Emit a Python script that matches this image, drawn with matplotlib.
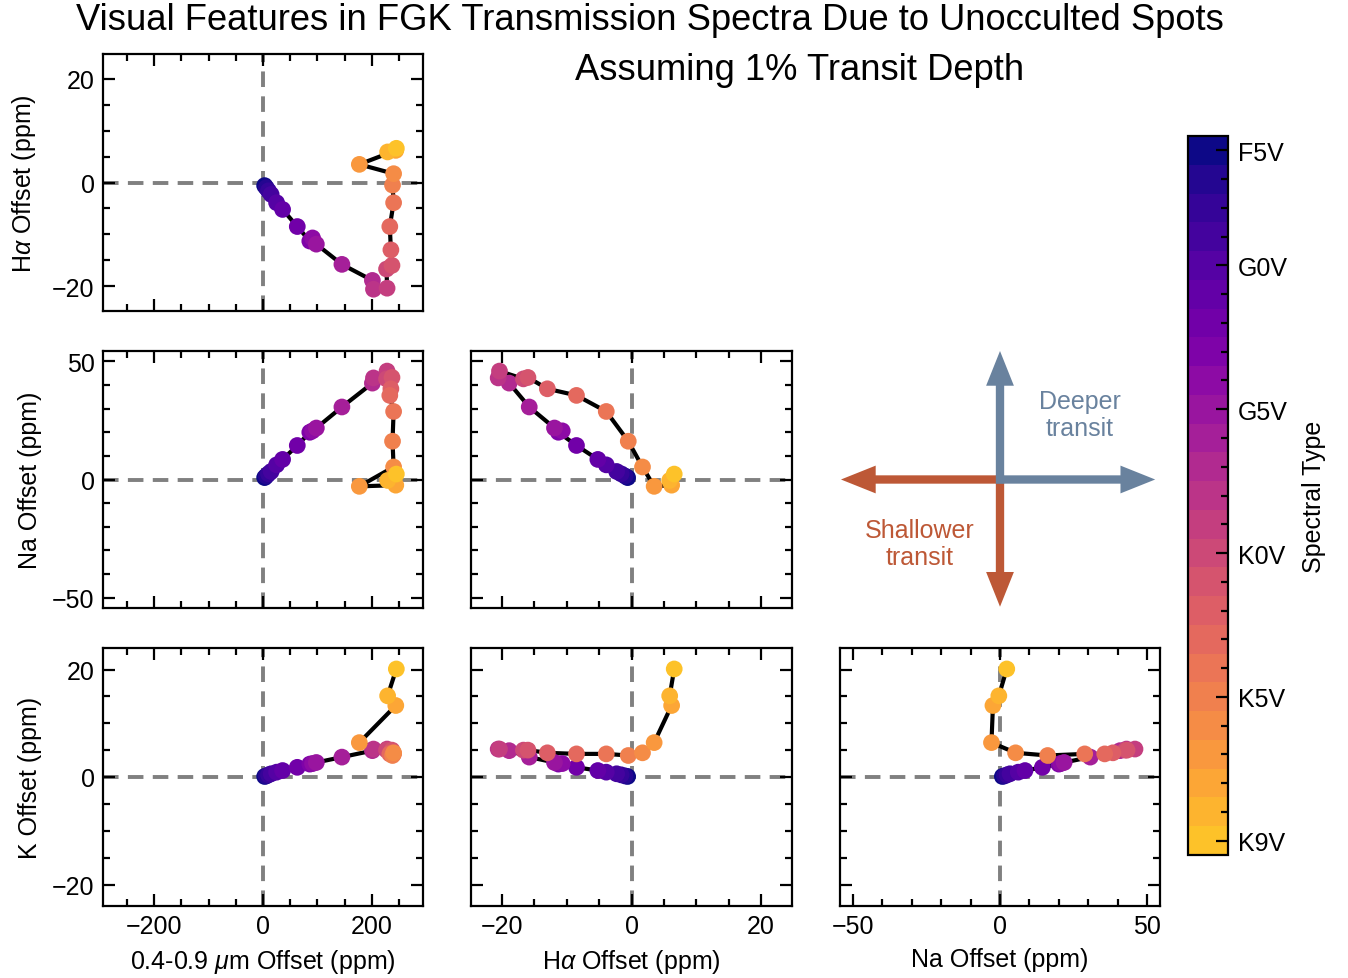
import numpy as np
import matplotlib
matplotlib.use('Agg')
import matplotlib.pyplot as plt
from matplotlib.colors import ListedColormap, BoundaryNorm
from matplotlib.cm import ScalarMappable
from matplotlib.ticker import MultipleLocator, FixedLocator
from matplotlib.patches import FancyArrowPatch

plt.rcParams['font.family'] = ['Liberation Sans', 'DejaVu Sans']
plt.rcParams['mathtext.fontset'] = 'custom'
plt.rcParams['mathtext.rm'] = 'Liberation Sans'
plt.rcParams['mathtext.it'] = 'Liberation Sans:italic'
plt.rcParams['font.size'] = 18

# ---------------- data ----------------
# star models ordered from F5V (hottest) to K9V (coolest)
star_index = list(range(25))
broadband_offset = [3, 6, 10, 15, 25, 36, 63, 86, 91, 98, 145, 201, 203, 228, 227,
                    237, 235, 233, 240, 238, 240, 177, 244, 229, 245]
halpha_offset = [-0.6, -1.0, -1.6, -2.3, -3.9, -5.2, -8.5, -11.3, -10.7, -11.9, -15.8,
                 -18.9, -20.6, -20.4, -16.7, -16.0, -13.0, -8.5, -3.9, -0.5, 1.7,
                 3.5, 6.2, 5.9, 6.6]
na_offset = [0.8, 1.5, 2.4, 3.4, 6.2, 8.5, 14.4, 20.0, 20.6, 21.8, 30.7, 40.8, 43.0,
             45.9, 42.6, 43.2, 38.4, 35.6, 28.8, 16.2, 5.3, -2.9, -2.4, -0.4, 2.3]
k_offset = [0.1, 0.2, 0.4, 0.6, 0.9, 1.2, 1.8, 2.4, 2.5, 2.7, 3.7, 4.9, 5.2, 5.2, 5.0,
            5.0, 4.5, 4.3, 4.3, 4.0, 4.5, 6.4, 13.3, 15.1, 20.1]
colorbar_tick_labels = ['F5V', 'G0V', 'G5V', 'K0V', 'K5V', 'K9V']
colorbar_tick_index = [0, 4, 9, 14, 19, 24]

axis_labels = [r'0.4-0.9 $\mu$m Offset (ppm)', r'H$\alpha$ Offset (ppm)',
               'Na Offset (ppm)', 'K Offset (ppm)']
title_text = 'Visual Features in FGK Transmission Spectra Due to Unocculted Spots'
subtitle_text = 'Assuming 1% Transit Depth'

# ---------------- layout / style ----------------
values = [broadband_offset, halpha_offset, na_offset, k_offset]
limits = [294, 24.8, 54.4, 24.0]
major_step = [200, 20, 50, 20]
minor_step = [50, 5, 10, 5]

W, H = 1348, 979
fig = plt.figure(figsize=(W / 100, H / 100), dpi=100)


def add_ax(x0, x1, y0, y1):
    return fig.add_axes([x0 / W, 1 - y1 / H, (x1 - x0) / W, (y1 - y0) / H])


cols = [(103, 423), (471, 792), (840, 1160)]
rows = [(55, 312), (352, 609), (649, 907)]
ylabel_pads = [10, 7, 7]

n = len(star_index)
colors = plt.cm.plasma(np.linspace(0.0, 0.87, n))
cmap = ListedColormap(colors)
idx = np.array(star_index)
dash = (0, (4.0, 2.4))

for r in range(3):
    for c in range(r + 1):
        ax = add_ax(cols[c][0], cols[c][1], rows[r][0], rows[r][1])
        xi, yi = c, r + 1
        x = values[xi]
        y = values[yi]
        ax.axhline(0, color='gray', lw=2.8, ls=dash, zorder=1)
        ax.axvline(0, color='gray', lw=2.8, ls=dash, zorder=1)
        ax.plot(x, y, color='black', lw=3, zorder=2)
        ax.scatter(x, y, c=idx, cmap=cmap, vmin=-0.5, vmax=n - 0.5, s=145,
                   edgecolors='none', zorder=3)
        ax.set_xlim(-limits[xi], limits[xi])
        ax.set_ylim(-limits[yi], limits[yi])
        ax.xaxis.set_major_locator(MultipleLocator(major_step[xi]))
        ax.xaxis.set_minor_locator(MultipleLocator(minor_step[xi]))
        ax.yaxis.set_major_locator(MultipleLocator(major_step[yi]))
        ax.yaxis.set_minor_locator(MultipleLocator(minor_step[yi]))
        ax.tick_params(which='both', direction='in', top=True, right=True,
                       width=1.6, labelsize=18, pad=6)
        ax.tick_params(which='major', length=8.5)
        ax.tick_params(which='minor', length=5)
        for s in ax.spines.values():
            s.set_linewidth(1.6)
        if r == 2:
            ax.set_xlabel(axis_labels[xi], fontsize=18, labelpad=6)
        else:
            ax.tick_params(labelbottom=False)
        if c == 0:
            ax.set_ylabel(axis_labels[yi], fontsize=18, labelpad=ylabel_pads[r])
        else:
            ax.tick_params(labelleft=False)

# arrows panel
aax = add_ax(cols[2][0], cols[2][1], rows[1][0], rows[1][1])
aax.set_xlim(-1, 1)
aax.set_ylim(-1, 1)
aax.axis('off')
blue = '#69829e'
orange = '#bd5836'
style = 'simple,tail_width=0.6,head_width=2.0,head_length=2.5'
hw = 4.0 / 160.0
hh = 4.0 / 128.5
arrows = [((0, 0), (-0.994, 0), orange), ((0, hh), (0, -0.99), orange),
          ((-hw, 0), (0.97, 0), blue), ((0, -hh), (0, 1.0), blue)]
for start, end, col in arrows:
    p = FancyArrowPatch(start, end, arrowstyle=style, mutation_scale=10,
                        color=col, shrinkA=0, shrinkB=0, lw=0,
                        transform=aax.transData, clip_on=False)
    aax.add_patch(p)
aax.text(0.75, 0.752, 'Deeper\ntransit', color=blue, fontsize=18, ha='center',
         va='center', linespacing=1.15, transform=aax.transAxes)
aax.text(0.25, 0.25, 'Shallower\ntransit', color=orange, fontsize=18, ha='center',
         va='center', linespacing=1.15, transform=aax.transAxes)

# colorbar
cax = add_ax(1188, 1228, 137, 856)
norm = BoundaryNorm(np.arange(-0.5, n + 0.5, 1), n)
sm = ScalarMappable(norm=norm, cmap=cmap)
cb = fig.colorbar(sm, cax=cax)
cax.invert_yaxis()
cb.set_ticks(colorbar_tick_index)
cb.set_ticklabels(colorbar_tick_labels)
cax.yaxis.set_minor_locator(FixedLocator([i for i in star_index
                                          if i not in colorbar_tick_index]))
cax.tick_params(which='both', direction='in', right=True, left=False,
                width=1.6, labelsize=18, pad=7)
cax.tick_params(which='major', length=8.5)
cax.tick_params(which='minor', length=5)
cb.outline.set_linewidth(1.6)
cb.set_label('Spectral Type', fontsize=18, labelpad=10)

fig.text(650 / W, 1 - 21 / H, title_text, fontsize=26.2, ha='center', va='center')
fig.text(800 / W, 1 - 71 / H, subtitle_text, fontsize=26.2, ha='center', va='center')

fig.savefig('out.png', dpi=100)
